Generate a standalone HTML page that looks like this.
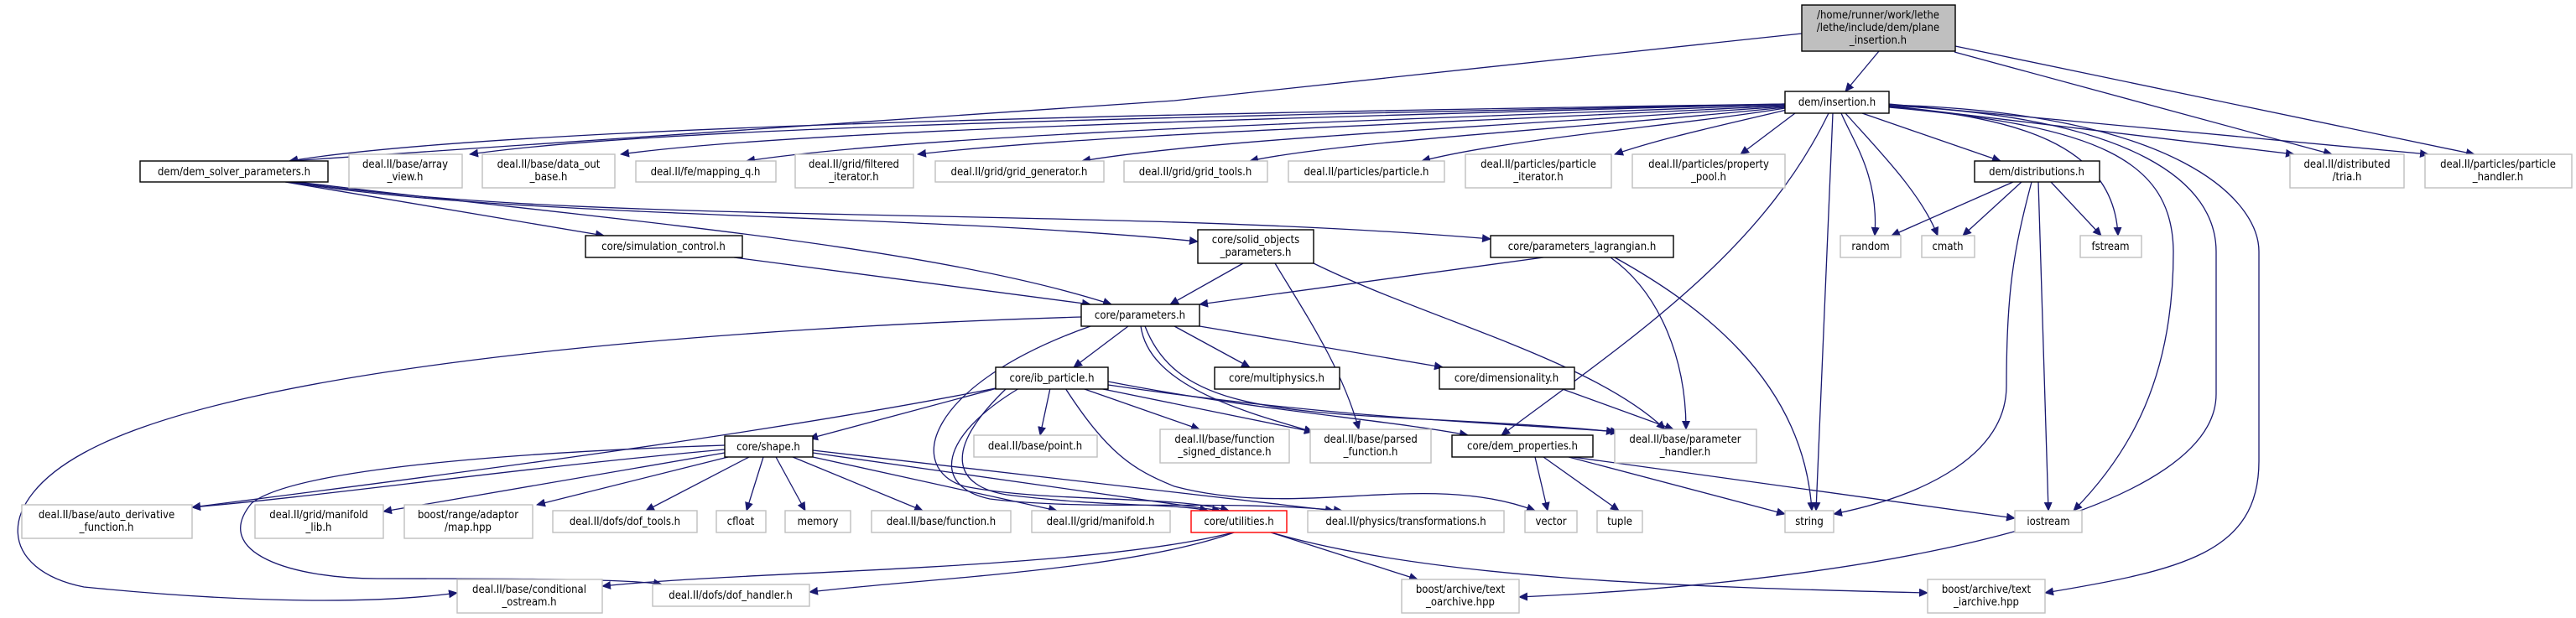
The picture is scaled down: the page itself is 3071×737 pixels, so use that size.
<!DOCTYPE html>
<html><head><meta charset="utf-8"><style>
html,body{margin:0;padding:0;background:#fff;}
svg{display:block;}
text{font-family:"DejaVu Sans Condensed","DejaVu Sans","Liberation Sans",sans-serif;font-size:13px;text-anchor:middle;fill:#000;}
.e{fill:none;stroke:#191970;stroke-width:1.3;marker-end:url(#a);}
.n{fill:#fff;stroke:#000;stroke-width:1.4;}
.g{fill:#fff;stroke:#bfbfbf;stroke-width:1.4;}
</style></head><body>
<svg width="3071" height="737" viewBox="0 0 3071 737" xmlns="http://www.w3.org/2000/svg">
<defs><marker id="a" markerWidth="11" markerHeight="10" refX="10" refY="5" orient="auto" markerUnits="userSpaceOnUse"><path d="M0,0 L11,5 L0,10 Z" fill="#191970"/></marker></defs>
<g>
<!-- root edges -->
<path class="e" d="M2240,61 L2200,109"/>
<path class="e" d="M2148,40 L1400,120 L345,192"/>
<path class="e" d="M2330,62 L2780,184"/>
<path class="e" d="M2331,55 L2950,184"/>
<!-- insertion edges -->
<path class="e" d="M2128,124 C1400,135 600,150 345,192"/>
<path class="e" d="M2128,124 C1400,140 800,150 560,184"/>
<path class="e" d="M2128,124 C1500,142 950,155 740,184"/>
<path class="e" d="M2128,125 C1600,145 1100,160 890,192"/>
<path class="e" d="M2128,126 C1700,148 1300,160 1094,184"/>
<path class="e" d="M2128,127 C1800,150 1450,165 1290,192"/>
<path class="e" d="M2128,128 C1900,152 1600,168 1490,192"/>
<path class="e" d="M2128,129 C2000,150 1800,165 1695,192"/>
<path class="e" d="M2130,131 C2050,150 1980,165 1925,184"/>
<path class="e" d="M2140,135 L2075,184"/>
<path class="e" d="M2220,135 L2385,192"/>
<path class="e" d="M2195,135 C2210,170 2240,210 2235,281"/>
<path class="e" d="M2200,135 C2240,180 2290,230 2310,281"/>
<path class="e" d="M2252,127 C2400,140 2520,170 2525,281"/>
<path class="e" d="M2252,126 L2735,184"/>
<path class="e" d="M2252,124 L2895,184"/>
<path class="e" d="M2185,135 L2165,609"/>
<path class="e" d="M2252,128 C2500,150 2590,190 2591,300 C2591,450 2540,540 2472,609"/>
<path class="e" d="M2252,126 C2550,140 2642,220 2642,300 L2642,470 C2642,600 2300,690 1811,712"/>
<path class="e" d="M2252,125 C2600,135 2693,240 2693,300 L2693,550 C2693,660 2600,680 2438,707"/>
<path class="e" d="M2180,135 C2100,300 1950,400 1790,519"/>
<!-- distributions -->
<path class="e" d="M2400,217 L2255,281"/>
<path class="e" d="M2410,217 L2340,281"/>
<path class="e" d="M2445,217 L2505,281"/>
<path class="e" d="M2422,217 C2400,300 2392,350 2392,460 C2392,540 2300,590 2186,613"/>
<path class="e" d="M2430,217 L2442,609"/>
<!-- dem_solver_parameters -->
<path class="e" d="M340,217 L720,281"/>
<path class="e" d="M345,217 C600,260 1100,255 1428,288"/>
<path class="e" d="M350,217 C700,270 1300,245 1777,285"/>
<path class="e" d="M355,217 C700,260 1100,290 1325,363"/>
<path class="e" d="M875,307 L1300,363"/>
<path class="e" d="M1482,314 L1395,363"/>
<path class="e" d="M1520,314 C1560,380 1600,440 1620,512"/>
<path class="e" d="M1566,314 C1700,380 1900,430 1985,512"/>
<path class="e" d="M1840,307 L1430,363"/>
<path class="e" d="M1920,307 C1980,350 2010,430 2010,512"/>
<path class="e" d="M1925,307 C2020,360 2150,450 2160,609"/>
<!-- parameters.h -->
<path class="e" d="M1345,389 L1280,438"/>
<path class="e" d="M1400,389 L1490,438"/>
<path class="e" d="M1430,389 L1720,438"/>
<path class="e" d="M1360,389 C1370,460 1480,490 1565,515"/>
<path class="e" d="M1365,389 C1400,480 1500,490 1700,500 C1800,505 1880,510 1925,515"/>
<path class="e" d="M1289,378 C900,390 300,430 100,540 C-10,600 0,680 100,700 C300,720 450,720 545,707"/>
<path class="e" d="M1300,389 C1100,460 1080,560 1150,580 C1250,600 1400,590 1465,609"/>
<!-- ib_particle -->
<path class="e" d="M1200,460 L965,523"/>
<path class="e" d="M1252,463 L1240,519"/>
<path class="e" d="M1290,463 L1430,512"/>
<path class="e" d="M1310,463 L1565,515"/>
<path class="e" d="M1321,455 C1500,490 1650,500 1750,519"/>
<path class="e" d="M1321,459 C1600,500 1800,505 1930,515"/>
<path class="e" d="M1187,463 C900,520 500,570 229,605"/>
<path class="e" d="M1270,463 C1320,540 1350,560 1400,580 C1550,620 1700,560 1830,609"/>
<path class="e" d="M1215,463 C1120,520 1110,580 1180,595 C1300,610 1450,595 1600,609"/>
<path class="e" d="M1200,463 C1120,540 1140,580 1200,590 C1320,605 1400,600 1440,609"/>
<!-- dimensionality -->
<path class="e" d="M1860,463 L1995,512"/>
<!-- dem_properties -->
<path class="e" d="M1830,545 L1845,609"/>
<path class="e" d="M1840,545 L1930,609"/>
<path class="e" d="M1870,545 L2128,613"/>
<path class="e" d="M1875,545 L2402,618"/>
<!-- shape -->
<path class="e" d="M864,536 C600,560 400,590 229,605"/>
<path class="e" d="M864,540 L457,610"/>
<path class="e" d="M868,545 L640,602"/>
<path class="e" d="M893,545 L770,609"/>
<path class="e" d="M910,545 L890,609"/>
<path class="e" d="M925,545 L960,609"/>
<path class="e" d="M945,545 L1100,609"/>
<path class="e" d="M969,545 L1260,609"/>
<path class="e" d="M969,540 L1455,609"/>
<path class="e" d="M969,537 L1590,609"/>
<path class="e" d="M864,531 C600,540 350,560 300,600 C250,660 350,690 450,690 C600,690 750,690 789,697"/>
<!-- utilities -->
<path class="e" d="M1474,634 C1300,680 900,680 718,699"/>
<path class="e" d="M1474,634 C1350,680 1100,690 965,706"/>
<path class="e" d="M1512,634 L1690,691"/>
<path class="e" d="M1512,634 C1700,690 2000,700 2298,707"/>
</g>
<g>
<rect x="2148" y="6" width="183" height="55" fill="#bfbfbf" stroke="#000" stroke-width="1.4"/>
<text x="2239" y="22">/home/runner/work/lethe</text><text x="2239" y="37">/lethe/include/dem/plane</text><text x="2239" y="52">_insertion.h</text>
<rect class="n" x="2128" y="109" width="124" height="26"/><text x="2190" y="126">dem/insertion.h</text>
<rect class="n" x="167" y="192" width="224" height="25"/><text x="279" y="209">dem/dem_solver_parameters.h</text>
<rect class="g" x="416" y="184" width="135" height="40"/><text x="483" y="200">deal.II/base/array</text><text x="483" y="215">_view.h</text>
<rect class="g" x="575" y="184" width="158" height="40"/><text x="654" y="200">deal.II/base/data_out</text><text x="654" y="215">_base.h</text>
<rect class="g" x="758" y="192" width="167" height="25"/><text x="841" y="209">deal.II/fe/mapping_q.h</text>
<rect class="g" x="948" y="184" width="141" height="40"/><text x="1018" y="200">deal.II/grid/filtered</text><text x="1018" y="215">_iterator.h</text>
<rect class="g" x="1115" y="192" width="201" height="25"/><text x="1215" y="209">deal.II/grid/grid_generator.h</text>
<rect class="g" x="1340" y="192" width="171" height="25"/><text x="1425" y="209">deal.II/grid/grid_tools.h</text>
<rect class="g" x="1536" y="192" width="186" height="25"/><text x="1629" y="209">deal.II/particles/particle.h</text>
<rect class="g" x="1747" y="184" width="174" height="40"/><text x="1834" y="200">deal.II/particles/particle</text><text x="1834" y="215">_iterator.h</text>
<rect class="g" x="1946" y="184" width="182" height="40"/><text x="2037" y="200">deal.II/particles/property</text><text x="2037" y="215">_pool.h</text>
<rect class="n" x="2354" y="192" width="149" height="25"/><text x="2428" y="209">dem/distributions.h</text>
<rect class="g" x="2730" y="184" width="136" height="40"/><text x="2798" y="200">deal.II/distributed</text><text x="2798" y="215">/tria.h</text>
<rect class="g" x="2891" y="184" width="175" height="40"/><text x="2978" y="200">deal.II/particles/particle</text><text x="2978" y="215">_handler.h</text>
<rect class="n" x="698" y="281" width="187" height="26"/><text x="791" y="298">core/simulation_control.h</text>
<rect class="n" x="1428" y="274" width="138" height="40"/><text x="1497" y="290">core/solid_objects</text><text x="1497" y="305">_parameters.h</text>
<rect class="n" x="1777" y="281" width="218" height="26"/><text x="1886" y="298">core/parameters_lagrangian.h</text>
<rect class="g" x="2194" y="281" width="72" height="26"/><text x="2230" y="298">random</text>
<rect class="g" x="2291" y="281" width="63" height="26"/><text x="2322" y="298">cmath</text>
<rect class="g" x="2480" y="281" width="73" height="26"/><text x="2516" y="298">fstream</text>
<rect class="n" x="1289" y="363" width="141" height="26"/><text x="1359" y="380">core/parameters.h</text>
<rect class="n" x="1187" y="438" width="134" height="26"/><text x="1254" y="455">core/ib_particle.h</text>
<rect class="n" x="1448" y="438" width="149" height="26"/><text x="1522" y="455">core/multiphysics.h</text>
<rect class="n" x="1716" y="438" width="161" height="26"/><text x="1796" y="455">core/dimensionality.h</text>
<rect class="g" x="1161" y="519" width="147" height="26"/><text x="1234" y="536">deal.II/base/point.h</text>
<rect class="g" x="1383" y="512" width="154" height="40"/><text x="1460" y="528">deal.II/base/function</text><text x="1460" y="543">_signed_distance.h</text>
<rect class="g" x="1562" y="512" width="144" height="40"/><text x="1634" y="528">deal.II/base/parsed</text><text x="1634" y="543">_function.h</text>
<rect class="n" x="1731" y="519" width="168" height="26"/><text x="1815" y="536">core/dem_properties.h</text>
<rect class="g" x="1925" y="512" width="169" height="40"/><text x="2009" y="528">deal.II/base/parameter</text><text x="2009" y="543">_handler.h</text>
<rect class="n" x="864" y="520" width="105" height="25"/><text x="916" y="537">core/shape.h</text>
<rect class="g" x="26" y="602" width="203" height="40"/><text x="127" y="618">deal.II/base/auto_derivative</text><text x="127" y="633">_function.h</text>
<rect class="g" x="304" y="602" width="153" height="40"/><text x="380" y="618">deal.II/grid/manifold</text><text x="380" y="633">_lib.h</text>
<rect class="g" x="482" y="602" width="153" height="40"/><text x="558" y="618">boost/range/adaptor</text><text x="558" y="633">/map.hpp</text>
<rect class="g" x="659" y="609" width="172" height="26"/><text x="745" y="626">deal.II/dofs/dof_tools.h</text>
<rect class="g" x="854" y="609" width="59" height="26"/><text x="883" y="626">cfloat</text>
<rect class="g" x="936" y="609" width="78" height="26"/><text x="975" y="626">memory</text>
<rect class="g" x="1039" y="609" width="166" height="26"/><text x="1122" y="626">deal.II/base/function.h</text>
<rect class="g" x="1230" y="609" width="165" height="26"/><text x="1312" y="626">deal.II/grid/manifold.h</text>
<rect x="1420" y="609" width="114" height="26" fill="#fff" stroke="#ff0000" stroke-width="1.4"/><text x="1477" y="626">core/utilities.h</text>
<rect class="g" x="1559" y="609" width="234" height="26"/><text x="1676" y="626">deal.II/physics/transformations.h</text>
<rect class="g" x="1818" y="609" width="62" height="26"/><text x="1849" y="626">vector</text>
<rect class="g" x="1904" y="609" width="54" height="26"/><text x="1931" y="626">tuple</text>
<rect class="g" x="2128" y="609" width="58" height="26"/><text x="2157" y="626">string</text>
<rect class="g" x="2402" y="609" width="80" height="26"/><text x="2442" y="626">iostream</text>
<rect class="g" x="545" y="691" width="173" height="40"/><text x="631" y="707">deal.II/base/conditional</text><text x="631" y="722">_ostream.h</text>
<rect class="g" x="778" y="697" width="187" height="26"/><text x="871" y="714">deal.II/dofs/dof_handler.h</text>
<rect class="g" x="1671" y="691" width="140" height="40"/><text x="1741" y="707">boost/archive/text</text><text x="1741" y="722">_oarchive.hpp</text>
<rect class="g" x="2298" y="691" width="140" height="40"/><text x="2368" y="707">boost/archive/text</text><text x="2368" y="722">_iarchive.hpp</text>
</g>
</svg>
</body></html>
